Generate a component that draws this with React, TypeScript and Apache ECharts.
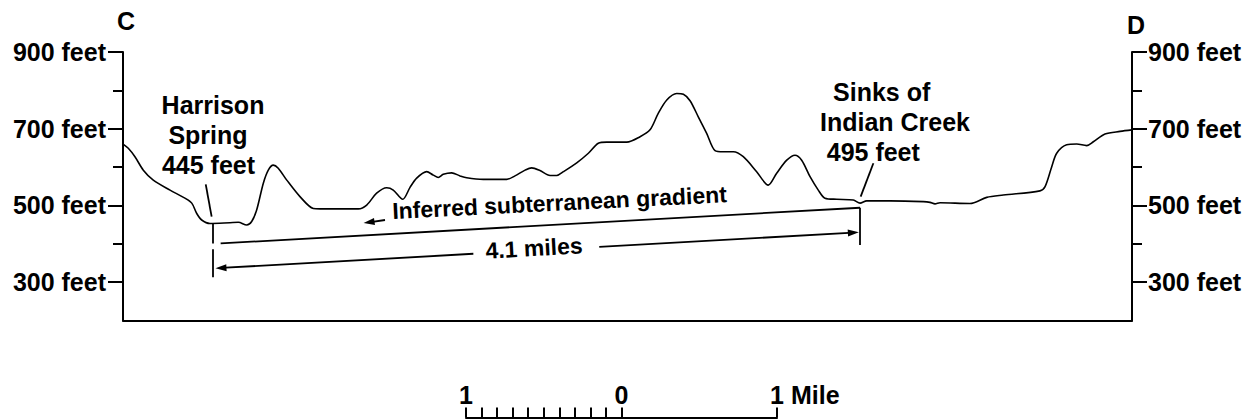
import React, { useEffect, useRef } from 'react';
import * as echarts from 'echarts';

// Ground-surface profile along section C–D (distance in miles, elevation in feet)
const profileMiles = [0, 0.034, 0.077, 0.131, 0.195, 0.303, 0.399, 0.443, 0.475, 0.507, 0.56, 0.689, 0.743, 0.797, 0.829, 0.861, 0.904, 0.936, 0.968, 1.0, 1.055, 1.14, 1.226, 1.269, 1.516, 1.57, 1.634, 1.699, 1.741, 1.802, 1.849, 1.892, 1.956, 1.999, 2.031, 2.063, 2.117, 2.171, 2.214, 2.321, 2.472, 2.525, 2.59, 2.633, 2.686, 2.751, 2.794, 2.837, 2.923, 2.998, 3.062, 3.116, 3.245, 3.331, 3.395, 3.448, 3.503, 3.567, 3.61, 3.653, 3.706, 3.76, 3.814, 3.867, 3.932, 3.996, 4.082, 4.157, 4.211, 4.276, 4.329, 4.372, 4.426, 4.479, 4.522, 4.598, 4.705, 4.748, 4.791, 4.941, 5.156, 5.199, 5.231, 5.263, 5.456, 5.564, 5.671, 5.907, 5.94, 5.983, 6.015, 6.079, 6.144, 6.208, 6.251, 6.326, 6.423, 6.5];
const profileFeet = [660, 649, 627, 592, 566, 540, 519, 506, 479, 462, 453, 455, 456, 449, 458, 488, 558, 592, 605, 597, 566, 523, 492, 491, 491, 501, 532, 546, 540, 516, 547, 571, 588, 579, 573, 581, 585, 577, 572, 568, 568, 577, 592, 598, 591, 578, 578, 588, 611, 636, 662, 665, 665, 679, 697, 740, 775, 792, 790, 773, 731, 688, 643, 640, 640, 627, 588, 553, 584, 618, 631, 618, 575, 540, 519, 516, 514, 506, 512, 512, 510, 508, 504, 507, 505, 521, 527, 538, 549, 601, 636, 658, 660, 656, 666, 686, 693, 697];

const elevationTicks = [300, 500, 700, 900];
const minorElevationTicks = [400, 600, 800];
const scaleTicks = [-1, -0.9, -0.8, -0.7, -0.6, -0.5, -0.4, -0.3, -0.2, -0.1, 0, 1];
const scaleLabels = [-1, 0, 1];

// Annotation segments, [mile, feet] pairs
const harrisonLeader = [[0.533, 555], [0.571, 471]];
const sinksLeader = [[4.834, 610], [4.752, 523]];
const springTickUpper = [[0.578, 452], [0.578, 401]];
const springTickLower = [[0.578, 386], [0.578, 313]];
const sinksTick = [[4.748, 494], [4.748, 397]];
const gradientLine = [[0.629, 401], [4.748, 494]];
const gradientArrow = [[1.585, 456], [1.688, 462]];
const distanceLeft = [[0.631, 337], [2.257, 374]];
const distanceRight = [[3.068, 392], [4.705, 429]];

const FONT = '"Liberation Sans", Arial, Helvetica, sans-serif';

function seg(pts: number[][], arrowStart = false, arrowEnd = false) {
  return [
    { coord: pts[0], symbol: arrowStart ? 'triangle' : 'none', symbolSize: [7, 11] },
    { coord: pts[1], symbol: arrowEnd ? 'triangle' : 'none', symbolSize: [7, 11] },
  ];
}

function txt(text: string, x: number, y: number, size = 25, rotation = 0, align = 'center') {
  return {
    type: 'text',
    x,
    y,
    rotation,
    silent: true,
    style: {
      text,
      fill: '#000',
      fontSize: size,
      fontWeight: 'bold',
      fontFamily: FONT,
      align,
      verticalAlign: 'middle',
    },
  };
}

export default function App() {
  const ref = useRef<HTMLDivElement>(null);
  useEffect(() => {
    const chart = echarts.init(ref.current!, null, { renderer: 'svg' });
    const black = '#000';
    const labelStyle = { color: black, fontSize: 25, fontWeight: 'bold', fontFamily: FONT };
    const yBase = (position: string) => ({
      gridIndex: 0,
      type: 'value',
      position,
      min: 200,
      max: 900,
      splitLine: { show: false },
    });
    const option: any = {
      animation: false,
      backgroundColor: '#fff',
      grid: [
        { left: 123, right: 125, top: 52, bottom: 98.5, containLabel: false, outerBoundsMode: 'none' },
        { left: 466, width: 311, top: 400, height: 17.5, containLabel: false, outerBoundsMode: 'none' },
      ],
      xAxis: [
        {
          gridIndex: 0, type: 'value', min: 0, max: 6.5,
          axisLine: { show: true, onZero: false, lineStyle: { color: black, width: 2 } },
          axisTick: { show: false }, axisLabel: { show: false }, splitLine: { show: false },
        },
        {
          gridIndex: 1, type: 'value', min: -1, max: 1, position: 'bottom',
          axisLine: { show: true, onZero: false, lineStyle: { color: black, width: 2 } },
          axisTick: { show: true, inside: true, length: 10, customValues: scaleTicks, lineStyle: { color: black, width: 2 } },
          axisLabel: { show: true, inside: true, margin: 10, customValues: scaleLabels, formatter: (v: number) => String(Math.abs(v)), ...labelStyle },
          splitLine: { show: false },
        },
      ],
      yAxis: [
        {
          ...yBase('left'),
          axisLine: { show: true, onZero: false, lineStyle: { color: black, width: 2 } },
          axisTick: { show: true, length: 15, customValues: elevationTicks, lineStyle: { color: black, width: 2 } },
          axisLabel: { show: true, margin: 17, customValues: elevationTicks, formatter: (v: number) => `${v} feet`, ...labelStyle },
        },
        {
          ...yBase('left'),
          axisLine: { show: false, onZero: false },
          axisTick: { show: true, length: 10, customValues: minorElevationTicks, lineStyle: { color: black, width: 2 } },
          axisLabel: { show: false },
        },
        {
          ...yBase('right'),
          axisLine: { show: true, onZero: false, lineStyle: { color: black, width: 2 } },
          axisTick: { show: true, length: 15, customValues: elevationTicks, lineStyle: { color: black, width: 2 } },
          axisLabel: { show: true, margin: 16, customValues: elevationTicks, formatter: (v: number) => `${v} feet`, ...labelStyle },
        },
        {
          ...yBase('right'),
          axisLine: { show: false, onZero: false },
          axisTick: { show: true, length: 10, customValues: minorElevationTicks, lineStyle: { color: black, width: 2 } },
          axisLabel: { show: false },
        },
        { gridIndex: 1, type: 'value', min: 0, max: 1, show: false },
      ],
      series: [
        {
          type: 'line',
          xAxisIndex: 0,
          yAxisIndex: 0,
          data: profileMiles.map((m, i) => [m, profileFeet[i]]),
          showSymbol: false,
          symbol: 'none',
          smooth: 0.3,
          silent: true,
          lineStyle: { color: black, width: 1.6 },
          markLine: {
            silent: true,
            animation: false,
            symbol: ['none', 'none'],
            label: { show: false },
            emphasis: { disabled: true },
            lineStyle: { color: black, width: 1.8, type: 'solid' },
            data: [
              seg(harrisonLeader),
              seg(sinksLeader),
              seg(springTickUpper),
              seg(springTickLower),
              seg(sinksTick),
              seg(gradientLine),
              seg(gradientArrow, true, false),
              seg(distanceLeft, true, false),
              seg(distanceRight, false, true),
            ],
          },
        },
      ],
      graphic: [
        txt('C', 126, 21),
        txt('D', 1136, 25),
        txt('Harrison', 213, 105),
        txt('Spring', 208, 135),
        txt('445 feet', 208.5, 164.5),
        txt('Sinks of', 881.7, 92),
        txt('Indian Creek', 895, 121.5),
        txt('495 feet', 873.3, 151.7),
        txt('Inferred subterranean gradient', 559.5, 202.6, 23, 0.05),
        txt('4.1 miles', 534, 248, 23, 0.056),
        txt('Mile', 791, 395, 25, 0, 'left'),
      ],
    };
    chart.setOption(option);
    return () => chart.dispose();
  }, []);
  return <div ref={ref} style={{ position: 'absolute', left: 0, top: 0, width: 1257, height: 419 }} />;
}
